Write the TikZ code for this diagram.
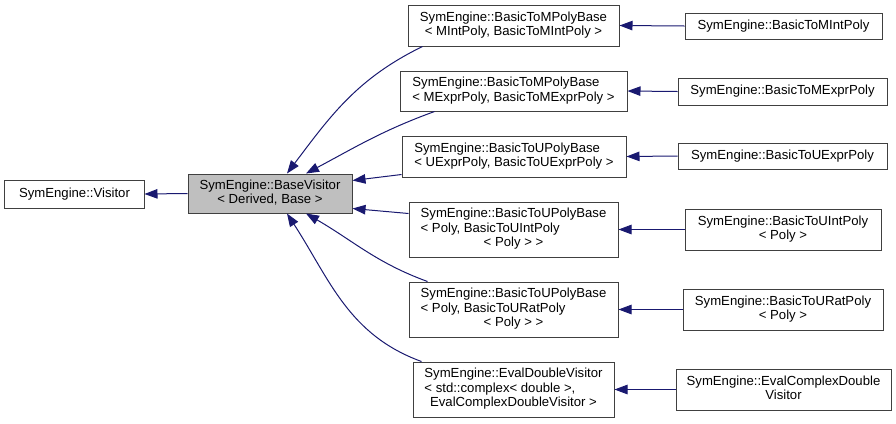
\documentclass[tikz,border=0pt]{standalone}
\usepackage{fontspec}
\setmainfont{Liberation Sans}
\usetikzlibrary{arrows.meta}
\definecolor{edgeblue}{HTML}{191970}
\definecolor{basegray}{HTML}{BFBFBF}
\definecolor{boxline}{HTML}{404040}
% all lines but the last left, last line centred
\newcommand{\lbl}[2]{\begin{tabular}{@{}l@{}}#1\\\multicolumn{1}{@{}c@{}}{#2}\end{tabular}}

\begin{document}
\begin{tikzpicture}[x=1bp,y=1bp,
  cls/.style={draw=boxline,line width=1bp,fill=white,inner sep=0pt,font=\fontsize{13.2}{14.5}\selectfont},
  inh/.style={draw=edgeblue,line width=1bp,-{Triangle[length=13bp,width=9.5bp,fill=edgeblue]}}]
\useasboundingbox (0,0) rectangle (896,-423);
\node[cls,minimum width=139bp,minimum height=28bp] (visitor) at (74.5,-194) {SymEngine::Visitor};
\node[cls,fill=basegray,minimum width=164bp,minimum height=39bp] (base) at (270,-193.5)
  {\lbl{SymEngine::BaseVisitor}{< Derived, Base >}};
% derived bases
\foreach \nm/\x/\y/\w/\h/\txt in {
  n1/513.5/25.5/211/41/{\lbl{SymEngine::BasicToMPolyBase}{< MIntPoly, BasicToMIntPoly >}},
  n2/513.5/91/227/40/{\lbl{SymEngine::BasicToMPolyBase}{< MExprPoly, BasicToMExprPoly >}},
  n3/514/156.5/224/41/{\lbl{SymEngine::BasicToUPolyBase}{< UExprPoly, BasicToUExprPoly >}},
  n4/513.5/229.5/209/55/{\lbl{SymEngine::BasicToUPolyBase\\< Poly, BasicToUIntPoly}{< Poly > >}},
  n5/513.5/309.5/209/55/{\lbl{SymEngine::BasicToUPolyBase\\< Poly, BasicToURatPoly}{< Poly > >}},
  n6/513.5/389.5/201/55/{\lbl{SymEngine::EvalDoubleVisitor\\< std::complex< double >,}{EvalComplexDoubleVisitor >}}}
  \node[cls,minimum width=\w bp,minimum height=\h bp] (\nm) at (\x,-\y) {\txt};
% leaf classes
\foreach \nm/\x/\y/\w/\h/\txt in {
  r1/783.5/26/197/26/{SymEngine::BasicToMIntPoly},
  r2/782.5/91.5/209/27/{SymEngine::BasicToMExprPoly},
  r3/782.5/156/209/26/{SymEngine::BasicToUExprPoly},
  r4/783/229.5/196/41/{\lbl{SymEngine::BasicToUIntPoly}{< Poly >}},
  r5/783/309.5/200/41/{\lbl{SymEngine::BasicToURatPoly}{< Poly >}},
  r6/783.5/389.5/215/41/{\lbl{SymEngine::EvalComplexDouble}{Visitor}}}
  \node[cls,minimum width=\w bp,minimum height=\h bp] (\nm) at (\x,-\y) {\txt};
\draw[inh] (base.west) -- (visitor.east);
\draw[inh] ([xshift=15bp]n1.south west) to[out=206,in=53] ([xshift=17bp]base.north);
\draw[inh] ([xshift=35bp]n2.south west) to[out=200,in=28] ([xshift=36bp]base.north);
\draw[inh] ([yshift=3bp]n3.south west) -- ([yshift=-7bp]base.north east);
\draw[inh] ([yshift=-12bp]n4.north west) -- ([yshift=5bp]base.south east);
\draw[inh] ([xshift=19bp]n5.north west) to[out=160,in=-30] ([xshift=36bp]base.south);
\draw[inh] ([xshift=9bp]n6.north west) to[out=160,in=-57] ([xshift=17bp]base.south);
\foreach \a/\b in {r1/n1,r2/n2,r3/n3,r4/n4,r5/n5,r6/n6}
  \draw[inh] (\a.west) -- (\b.east);
\end{tikzpicture}
\end{document}
